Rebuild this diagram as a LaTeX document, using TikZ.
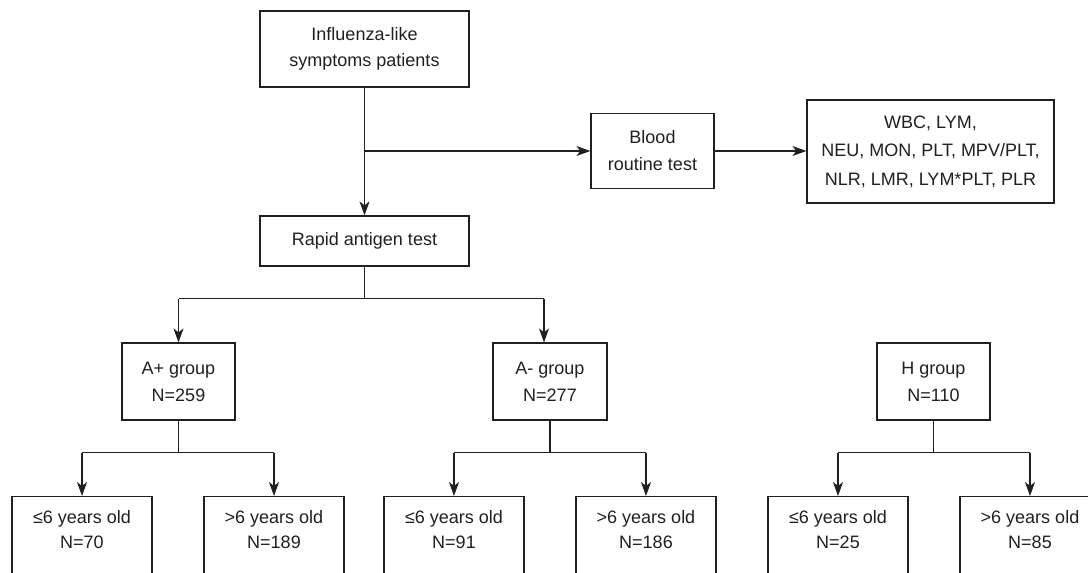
\documentclass[tikz,border=0pt]{standalone}
\usepackage{fontspec}
\setmainfont{Liberation Sans}
\usetikzlibrary{arrows.meta,calc}
\definecolor{ink}{HTML}{231F20}
\begin{document}
\begin{tikzpicture}[x=1pt,y=-1pt,
  box/.style={draw=ink, line width=1.2pt, text=ink, align=center,
    font=\fontsize{18}{26}\selectfont, inner sep=0pt},
  txt/.style={text=ink, align=center, font=\fontsize{18}{25}\selectfont, inner sep=0pt},
  ln/.style={draw=ink, line width=1.2pt},
  arr/.style={draw=ink, line width=1.2pt, -{Stealth[length=14pt,width=10pt,inset=4pt]}}]
\clip (0,0) rectangle (1088,573);
\fill[white] (0,0) rectangle (1088,573);
% top level
\node[box, minimum width=209pt, minimum height=76pt] (top) at (364.5,49) {Influenza-like\\symptoms patients};
\node[box, minimum width=123pt, minimum height=75pt, font=\fontsize{18}{27}\selectfont] (blood) at (652.5,151) {Blood\\routine test};
\node[box, minimum width=247pt, minimum height=103pt, font=\fontsize{18}{28.5}\selectfont] (wbc) at (930.5,151.5) {WBC, LYM,\\NEU, MON, PLT, MPV/PLT,\\NLR, LMR, LYM*PLT, PLR};
\node[box, minimum width=209pt, minimum height=50pt] (rapid) at (364.5,241) {Rapid antigen test};
% groups
\node[box, minimum width=113pt, minimum height=77pt, font=\fontsize{18}{27}\selectfont] (ap) at (178.5,381.5) {A+ group\\N=259};
\node[box, minimum width=114pt, minimum height=77pt, font=\fontsize{18}{27}\selectfont] (am) at (550,381.5) {A- group\\N=277};
\node[box, minimum width=113pt, minimum height=77pt, font=\fontsize{18}{27}\selectfont] (hg) at (933.5,381.5) {H group\\N=110};
% bottom boxes (cut off by the lower edge)
\foreach \n/\x in {b1/82,b2/274,b3/454,b4/646,b5/838,b6/1030}{
  \node[box, minimum width=140pt, minimum height=140pt, anchor=north] (\n) at (\x,496) {};
}
\node[txt] (t1) at (82,530) {≤6 years old\\N=70};
\node[txt] (t2) at (274,530) {>6 years old\\N=189};
\node[txt] (t3) at (454,530) {≤6 years old\\N=91};
\node[txt] (t4) at (646,530) {>6 years old\\N=186};
\node[txt] (t5) at (838,530) {≤6 years old\\N=25};
\node[txt] (t6) at (1030,530) {>6 years old\\N=85};
% connectors
\draw[arr] (top.south) -- (rapid.north);
\draw[arr] (top.south |- blood.west) -- (blood.west);
\draw[arr] (blood.east) -- (blood.east -| wbc.west);
\coordinate (r1) at ($(rapid.south)+(0,32)$);
\coordinate (amin) at ($(am.north)+(-6,0)$);
\draw[ln] (rapid.south) -- (r1);
\draw[ln] (r1 -| ap.north) -- (r1 -| amin);
\draw[arr] (r1 -| ap.north) -- (ap.north);
\draw[arr] (r1 -| amin) -- (amin);
\foreach \g/\l/\r in {ap/b1/b2, am/b3/b4, hg/b5/b6}{
  \coordinate (\g j) at ($(\g.south)+(0,32)$);
  \draw[ln] (\g.south) -- (\g j);
  \draw[ln] (\g j -| \l.north) -- (\g j -| \r.north);
  \draw[arr] (\g j -| \l.north) -- (\l.north);
  \draw[arr] (\g j -| \r.north) -- (\r.north);
}
\end{tikzpicture}
\end{document}
